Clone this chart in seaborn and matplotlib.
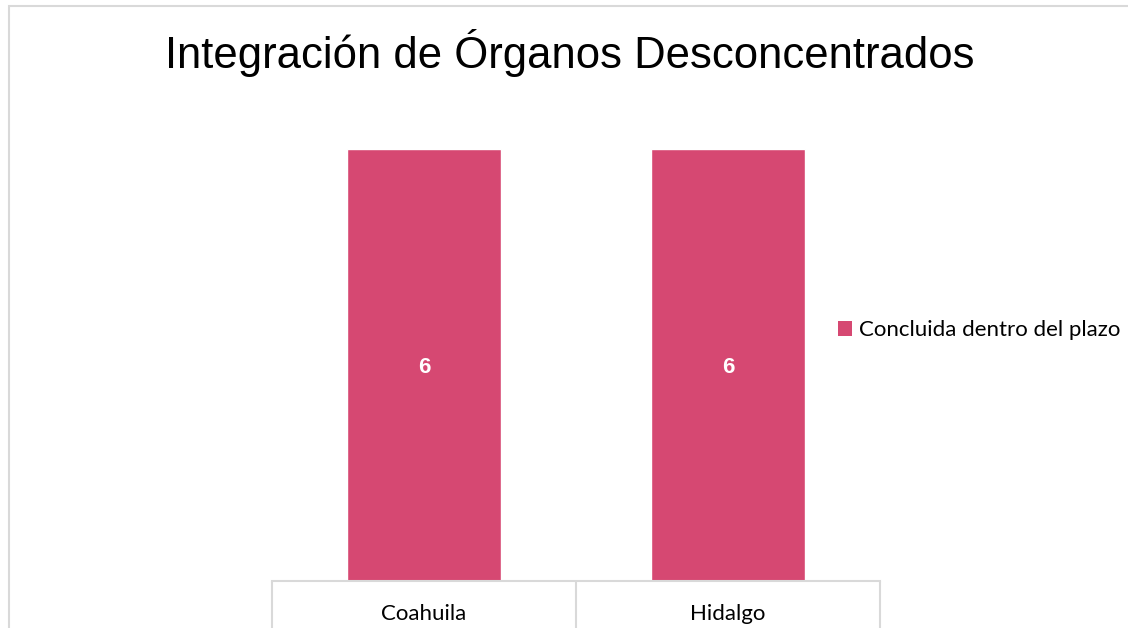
import matplotlib
matplotlib.use("Agg")
import matplotlib.pyplot as plt
import seaborn as sns
import pandas as pd
from matplotlib.patches import Rectangle, Patch

categories = ["Coahuila", "Hidalgo"]
values = [6, 6]
series_name = "Concluida dentro del plazo"
title = "Integración de Órganos Desconcentrados"

sns.set_theme(style="white")
plt.rcParams['font.family'] = ['Liberation Sans', 'DejaVu Sans']

color = "#D64872"
grid_c = "#D9D9D9"
W, H = 1128, 628
fig = plt.figure(figsize=(W/100, H/100), dpi=100)

# outer border
fig.patches.append(Rectangle((8.5/W, -0.1), 2, 1 - 6.5/H + 0.1, transform=fig.transFigure,
                             fill=False, edgecolor=grid_c, linewidth=1.5))

ax = fig.add_axes([272/W, 1 - 581/H, (880-272)/W, (581-149)/H])
df = pd.DataFrame({"cat": categories, "val": values})
sns.barplot(data=df, x="cat", y="val", color=color, saturation=1, width=0.507, ax=ax)
ax.set_ylim(0, 6)
ax.set_xlim(-0.5, 1.5)
for s in ["top", "right", "left"]:
    ax.spines[s].set_visible(False)
ax.spines["bottom"].set_color(grid_c)
ax.spines["bottom"].set_linewidth(1.5)
ax.set_yticks([])
ax.set_xlabel("")
ax.set_ylabel("")
ax.set_xticks([0, 1])
ax.set_xticklabels(categories, family=['Lato', 'DejaVu Sans'], fontsize=16, color="black")
ax.tick_params(axis="x", which="major", length=0, pad=16.5, bottom=True)
ax.set_xticks([-0.5, 0.5, 1.5], minor=True)
ax.tick_params(axis="x", which="minor", length=50, width=1.5, color=grid_c,
               direction="out", bottom=True)

for i, v in enumerate(values):
    ax.annotate(str(v), (i, v/2), xytext=(0, -2), textcoords="offset points",
                ha="center", va="center", color="white", fontsize=16, fontweight="bold")

fig.text(570/W, 1 - 53/H, title, ha="center", va="center", fontsize=31.4, color="black")

fig.legend(handles=[Patch(facecolor=color, edgecolor="none", label=series_name)],
           loc="center left", bbox_to_anchor=(838/W, 1 - 330/H), frameon=False,
           handlelength=0.65, handleheight=0.65, handletextpad=0.3, borderpad=0,
           borderaxespad=0, labelcolor="black",
           prop={'family': ['Lato', 'DejaVu Sans'], 'size': 16})

fig.savefig("out.png", dpi=100)
